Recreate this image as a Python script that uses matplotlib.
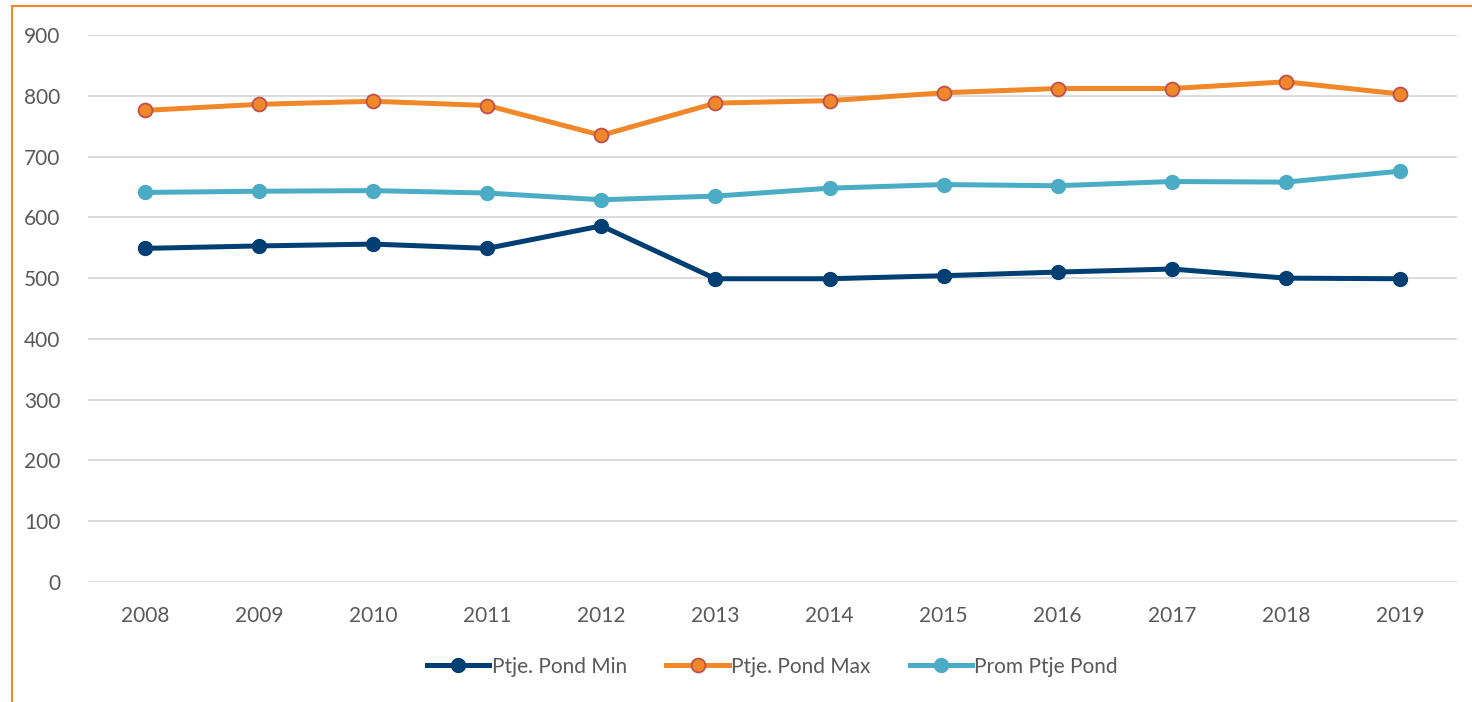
import matplotlib

matplotlib.use("Agg")
import matplotlib.pyplot as plt
from matplotlib.lines import Line2D

plt.rcParams["font.family"] = ["Lato", "DejaVu Sans"]

# Data
YEARS = ["2008", "2009", "2010", "2011", "2012", "2013",
         "2014", "2015", "2016", "2017", "2018", "2019"]
PTJE_MIN = [549, 553, 556, 549, 586, 499, 499, 504, 510, 515, 500, 499]
PTJE_MAX = [776, 786, 791, 784, 735, 788, 792, 805, 812, 812, 823, 803]
PROM_PTJE = [641, 643, 644, 640, 629, 635, 648, 654, 652, 659, 658, 676]

C_MIN = "#003f73"
C_MAX = "#f0882a"
C_MAX_EDGE = "#c0504d"
C_PROM = "#4bacc6"
TXT = "#595959"

fig = plt.figure(figsize=(14.72, 7.02), dpi=100)
ax = fig.add_axes([0.0598, 0.1709, 0.930, 0.7792])

x = list(range(len(YEARS)))
ax.plot(x, PTJE_MIN, color=C_MIN, lw=3.6, marker="o", ms=10,
        mfc=C_MIN, mec=C_MIN, label="Ptje. Pond Min", zorder=3)
ax.plot(x, PTJE_MAX, color=C_MAX, lw=3.6, marker="o", ms=10,
        mfc=C_MAX, mec=C_MAX_EDGE, mew=1.3, label="Ptje. Pond Max", zorder=3)
ax.plot(x, PROM_PTJE, color=C_PROM, lw=3.6, marker="o", ms=10,
        mfc=C_PROM, mec=C_PROM, label="Prom Ptje Pond", zorder=3)

ax.set_xlim(-0.5, len(YEARS) - 0.5)
ax.set_ylim(0, 900)
ax.set_yticks(range(0, 901, 100))
ax.set_xticks(x)
ax.set_xticklabels(YEARS)
ax.grid(axis="y", color="#d9d9d9", lw=1.3)
ax.set_axisbelow(True)
for s in ax.spines.values():
    s.set_visible(False)
ax.tick_params(length=0, labelsize=15, colors=TXT)
ax.tick_params(axis="y", pad=20)
ax.tick_params(axis="x", pad=17)

ax.legend(loc="upper center", bbox_to_anchor=(0.5, -0.102), ncol=3,
          frameon=False, fontsize=15, labelcolor=TXT, handlelength=3.0,
          handletextpad=0.1, columnspacing=1.9)

# orange chart-area border (left and top visible)
fig.add_artist(Line2D([12 / 1472, 12 / 1472], [0, 1 - 6 / 702],
                      color="#f0882a", lw=1.5, transform=fig.transFigure))
fig.add_artist(Line2D([12 / 1472, 1], [1 - 6 / 702, 1 - 6 / 702],
                      color="#f0882a", lw=1.5, transform=fig.transFigure))

fig.savefig("out.png", dpi=100, facecolor="white")
